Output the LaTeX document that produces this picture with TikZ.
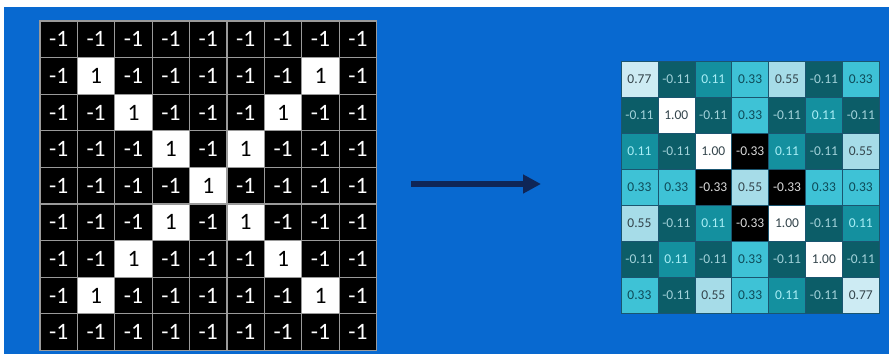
\documentclass[tikz,border=0pt]{standalone}
\usepackage{fontspec}
\setmainfont{Carlito}
\usetikzlibrary{arrows.meta}
\definecolor{bg}{HTML}{0869D0}
\definecolor{navy}{HTML}{0F2657}
\definecolor{gridgray}{HTML}{9A9A9A}
\definecolor{cA}{HTML}{CDEBF3}
\definecolor{cB}{HTML}{A6DCE8}
\definecolor{cC}{HTML}{3EC2D6}
\definecolor{cD}{HTML}{14909F}
\definecolor{cE}{HTML}{0C5D68}
\definecolor{tA}{HTML}{34454C}
\definecolor{tC}{HTML}{0E4A58}
\definecolor{tD}{HTML}{A8EEF6}
\definecolor{tE}{HTML}{A2D2DA}
\definecolor{rline}{HTML}{1A5570}
\tikzset{
  lcell/.style={draw=gridgray, line width=1.2pt, minimum width=37.4pt, minimum height=36.6pt, inner sep=0pt, font=\fontsize{23.5}{25}\selectfont, anchor=center},
  blk/.style={fill=black, text=white, node contents={-1}},
  wht/.style={fill=white, text=black, node contents={1}},
  rcell/.style={draw=rline, line width=0.5pt, minimum width=36.9pt, minimum height=36pt, inner sep=0pt, font=\fontsize{13.5}{15}\selectfont, anchor=center},
  A/.style={fill=cA, text=tA, node contents={0.77}},
  B/.style={fill=cB, text=tA, node contents={0.55}},
  C/.style={fill=cC, text=tC, node contents={0.33}},
  D/.style={fill=cD, text=tD, node contents={0.11}},
  E/.style={fill=cE, text=tE, node contents={-0.11}},
  F/.style={fill=black, text=white!85!black, node contents={-0.33}},
  W/.style={fill=white, text=tA, node contents={1.00}},
  conv/.style={line width=5.5pt, color=navy, -{Triangle[length=18pt,width=18pt]}}
}
\begin{document}
\begin{tikzpicture}[x=1pt,y=-1pt]
\fill[white] (0,0) rectangle (889,354);
\fill[bg] (4,7) rectangle (889,354);
\useasboundingbox (0,0) rectangle (889,354);
% left grid 9x9
\foreach \r in {1,...,9}{
  \foreach \c in {1,...,9}{
    \pgfmathtruncatemacro{\isw}{((\c==\r)||(\c==10-\r))&&(\r>1)&&(\r<9) ? 1 : 0}
    \ifnum\isw=1
      \node (L-\r-\c) at ({40+37.4*(\c-0.5)},{21+36.6*(\r-0.5)}) [lcell, wht];
    \else
      \node (L-\r-\c) at ({40+37.4*(\c-0.5)},{21+36.6*(\r-0.5)}) [lcell, blk];
    \fi
  }
}
% right grid 7x7
\foreach \row [count=\r] in {
  {A,E,D,C,B,E,C},
  {E,W,E,C,E,D,E},
  {D,E,W,F,D,E,B},
  {C,C,F,B,F,C,C},
  {B,E,D,F,W,E,D},
  {E,D,E,C,E,W,E},
  {C,E,B,C,D,E,A}}{
  \foreach \v [count=\c] in \row{
    \node (R-\r-\c) at ({621+36.9*(\c-0.5)},{61+36*(\r-0.5)}) [rcell, \v];
  }
}
\coordinate (arrS) at (411,184);
\coordinate (arrE) at (541,184);
\draw[conv] (arrS) -- (arrE);
\end{tikzpicture}
\end{document}
